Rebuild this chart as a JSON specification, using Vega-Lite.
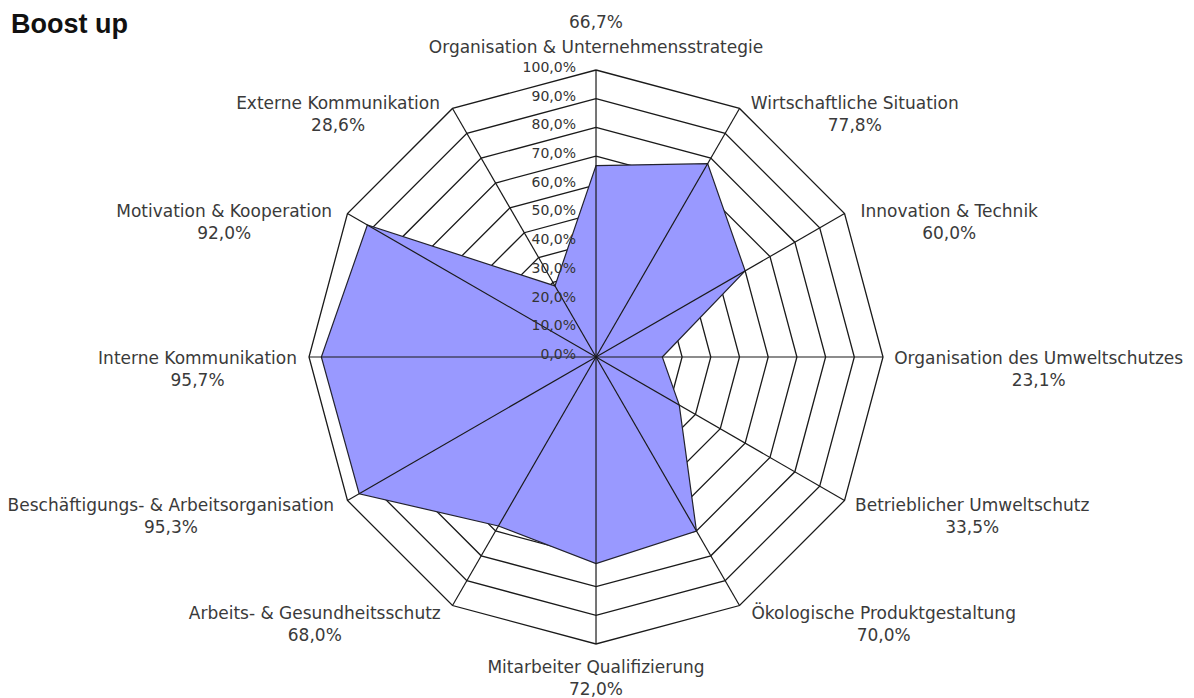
{
  "$schema": "https://vega.github.io/schema/vega-lite/v6.json",
  "width": 1194,
  "height": 698,
  "autosize": "none",
  "padding": 0,
  "background": "white",
  "config": {"view": {"stroke": null}},
  "title": {"text": "Boost up", "anchor": "start", "frame": "group", "orient": "top", "offset": -33, "dy": 27, "baseline": "alphabetic", "dx": 11, "font": "Liberation Sans", "fontSize": 27, "fontWeight": "bold", "color": "#111111"},
  "datasets": {
    "cats": [
      {"idx": 0, "cat": "Organisation & Unternehmensstrategie", "value": 66.7},
      {"idx": 1, "cat": "Wirtschaftliche Situation", "value": 77.8},
      {"idx": 2, "cat": "Innovation & Technik", "value": 60.0},
      {"idx": 3, "cat": "Organisation des Umweltschutzes", "value": 23.1},
      {"idx": 4, "cat": "Betrieblicher Umweltschutz", "value": 33.5},
      {"idx": 5, "cat": "Ökologische Produktgestaltung", "value": 70.0},
      {"idx": 6, "cat": "Mitarbeiter Qualifizierung", "value": 72.0},
      {"idx": 7, "cat": "Arbeits- & Gesundheitsschutz", "value": 68.0},
      {"idx": 8, "cat": "Beschäftigungs- & Arbeitsorganisation", "value": 95.3},
      {"idx": 9, "cat": "Interne Kommunikation", "value": 95.7},
      {"idx": 10, "cat": "Motivation & Kooperation", "value": 92.0},
      {"idx": 11, "cat": "Externe Kommunikation", "value": 28.6}
    ],
    "levels": [
      {"level": 0, "k": [0,1,2,3,4,5,6,7,8,9,10,11,12]},
      {"level": 10, "k": [0,1,2,3,4,5,6,7,8,9,10,11,12]},
      {"level": 20, "k": [0,1,2,3,4,5,6,7,8,9,10,11,12]},
      {"level": 30, "k": [0,1,2,3,4,5,6,7,8,9,10,11,12]},
      {"level": 40, "k": [0,1,2,3,4,5,6,7,8,9,10,11,12]},
      {"level": 50, "k": [0,1,2,3,4,5,6,7,8,9,10,11,12]},
      {"level": 60, "k": [0,1,2,3,4,5,6,7,8,9,10,11,12]},
      {"level": 70, "k": [0,1,2,3,4,5,6,7,8,9,10,11,12]},
      {"level": 80, "k": [0,1,2,3,4,5,6,7,8,9,10,11,12]},
      {"level": 90, "k": [0,1,2,3,4,5,6,7,8,9,10,11,12]},
      {"level": 100, "k": [0,1,2,3,4,5,6,7,8,9,10,11,12]}
    ]
  },
  "layer": [
    {
      "data": {"name": "levels"},
      "transform": [
        {"filter": "datum.level > 0"},
        {"flatten": ["k"]},
        {"calculate": "datum.level*sin(datum.k*PI/6)", "as": "gx"},
        {"calculate": "datum.level*cos(datum.k*PI/6)", "as": "gy"}
      ],
      "mark": {"type": "line", "color": "#1a1a1a", "strokeWidth": 1.3},
      "encoding": {
        "x": {"field": "gx", "type": "quantitative", "scale": {"domain": [-207.67, 208.36], "nice": false, "zero": false}, "axis": null},
        "y": {"field": "gy", "type": "quantitative", "scale": {"domain": [-118.82, 124.39], "nice": false, "zero": false}, "axis": null},
        "detail": {"field": "level", "type": "nominal"},
        "order": {"field": "k", "type": "quantitative"}
      }
    },
    {
      "data": {"name": "cats"},
      "transform": [
        {"calculate": "datum.idx*PI/6", "as": "ang"},
        {"calculate": "datum.value*sin(datum.ang)", "as": "px"},
        {"calculate": "datum.value*cos(datum.ang)", "as": "py"},
        {"calculate": "100*sin(datum.ang)", "as": "ax"},
        {"calculate": "100*cos(datum.ang)", "as": "ay"},
        {"calculate": "datum.ax > 1 ? 1 : (datum.ax < -1 ? -1 : 0)", "as": "side"},
        {"calculate": "0.63*length(datum.cat) - 0.35*length(replace(datum.cat, regexp('[^iljI]','g'), '')) - 0.25*length(replace(datum.cat, regexp('[^tfr -]','g'), '')) + 0.32*length(replace(datum.cat, regexp('[^mwMW&]','g'), '')) - 0.1*length(replace(datum.cat, regexp('[^scz]','g'), ''))", "as": "w"},
        {"calculate": "datum.side == 0 ? datum.ax : datum.ax + datum.side*(11 + datum.w*8.5)/2.87", "as": "lx"},
        {"calculate": "datum.idx == 0 ? datum.ay + 22/2.87 : (datum.idx == 6 ? datum.ay - 24/2.87 : datum.ay - (2 - 7*cos(datum.ang))/2.87)", "as": "ny"},
        {"calculate": "datum.idx == 0 ? datum.ay + 47/2.87 : (datum.idx == 6 ? datum.ay - 46/2.87 : datum.ny - 22/2.87)", "as": "vy"},
        {"calculate": "replace(format(datum.value, '.1f'), '.', ',') + '%'", "as": "vlabel"}
      ],
      "layer": [
        {
          "mark": {"type": "line", "interpolate": "linear-closed", "fill": "#9999ff", "stroke": "#22222e", "strokeWidth": 1.2},
          "encoding": {
            "x": {"field": "px", "type": "quantitative", "scale": {"domain": [-207.67, 208.36], "nice": false, "zero": false}, "axis": null},
            "y": {"field": "py", "type": "quantitative", "scale": {"domain": [-118.82, 124.39], "nice": false, "zero": false}, "axis": null},
            "order": {"field": "idx", "type": "quantitative"}
          }
        },
        {
          "mark": {"type": "rule", "color": "#1a1a1a", "strokeWidth": 1.2},
          "encoding": {
            "x": {"field": "ax", "type": "quantitative", "scale": {"domain": [-207.67, 208.36], "nice": false, "zero": false}, "axis": null},
            "y": {"field": "ay", "type": "quantitative", "scale": {"domain": [-118.82, 124.39], "nice": false, "zero": false}, "axis": null},
            "x2": {"datum": 0},
            "y2": {"datum": 0}
          }
        },
        {
          "mark": {"type": "text", "align": "center", "baseline": "middle", "font": "DejaVu Sans", "fontSize": 17, "color": "#3a3a3a"},
          "encoding": {
            "x": {"field": "lx", "type": "quantitative", "scale": {"domain": [-207.67, 208.36], "nice": false, "zero": false}, "axis": null},
            "y": {"field": "ny", "type": "quantitative", "scale": {"domain": [-118.82, 124.39], "nice": false, "zero": false}, "axis": null},
            "text": {"field": "cat"}
          }
        },
        {
          "mark": {"type": "text", "align": "center", "baseline": "middle", "font": "DejaVu Sans", "fontSize": 17, "color": "#3a3a3a"},
          "encoding": {
            "x": {"field": "lx", "type": "quantitative", "scale": {"domain": [-207.67, 208.36], "nice": false, "zero": false}, "axis": null},
            "y": {"field": "vy", "type": "quantitative", "scale": {"domain": [-118.82, 124.39], "nice": false, "zero": false}, "axis": null},
            "text": {"field": "vlabel"}
          }
        }
      ]
    },
    {
      "data": {"name": "levels"},
      "transform": [
        {"calculate": "replace(format(datum.level, '.1f'), '.', ',') + '%'", "as": "rlabel"},
        {"calculate": "0", "as": "zx"}
      ],
      "mark": {"type": "text", "align": "right", "baseline": "middle", "dx": -20, "dy": -2, "font": "DejaVu Sans", "fontSize": 14, "color": "#333333"},
      "encoding": {
        "x": {"field": "zx", "type": "quantitative", "scale": {"domain": [-207.67, 208.36], "nice": false, "zero": false}, "axis": null},
        "y": {"field": "level", "type": "quantitative", "scale": {"domain": [-118.82, 124.39], "nice": false, "zero": false}, "axis": null},
        "text": {"field": "rlabel"}
      }
    }
  ]
}
